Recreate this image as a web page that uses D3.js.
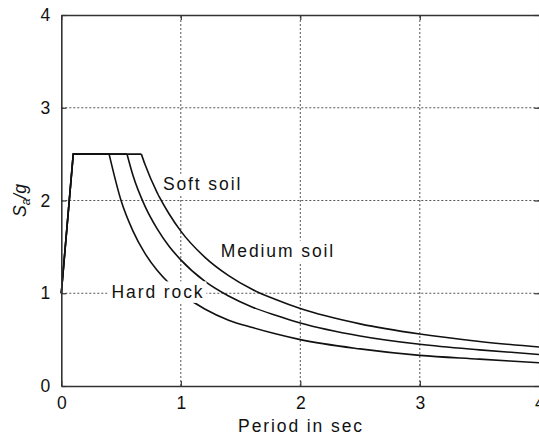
<!DOCTYPE html>
<html>
<head>
<meta charset="utf-8">
<script src="https://cdn.jsdelivr.net/npm/d3@7"></script>
<style>
  body { margin: 0; background: #fff; }
  svg { display: block; }
  text { font-family: "Liberation Sans", Arial, Helvetica, sans-serif; fill: #111; }
</style>
</head>
<body>
<svg id="chart" width="539" height="437"></svg>
<script>
// ---- data ----
const xTicks = [0, 1, 2, 3, 4];
const yTicks = [0, 1, 2, 3, 4];

const hardRockT  = [0, 0.1, 0.4, 0.5, 0.6, 0.7, 0.8, 0.9, 1.0, 1.2, 1.4, 1.6, 1.8, 2.0, 2.5, 3.0, 3.5, 4.0];
const hardRockSa = [1, 2.5, 2.5, 2.0, 1.67, 1.43, 1.25, 1.11, 1.0, 0.83, 0.71, 0.63, 0.56, 0.50, 0.40, 0.33, 0.29, 0.25];

const mediumSoilT  = [0, 0.1, 0.55, 0.6, 0.7, 0.8, 0.9, 1.0, 1.2, 1.4, 1.6, 1.8, 2.0, 2.5, 3.0, 3.5, 4.0];
const mediumSoilSa = [1, 2.5, 2.5, 2.27, 1.94, 1.70, 1.51, 1.36, 1.13, 0.97, 0.85, 0.76, 0.68, 0.54, 0.45, 0.39, 0.34];

const softSoilT  = [0, 0.1, 0.67, 0.7, 0.8, 0.9, 1.0, 1.2, 1.4, 1.6, 1.8, 2.0, 2.5, 3.0, 3.5, 4.0];
const softSoilSa = [1, 2.5, 2.5, 2.39, 2.09, 1.86, 1.67, 1.39, 1.19, 1.04, 0.93, 0.835, 0.67, 0.56, 0.48, 0.42];

const seriesNames = ["Hard rock", "Medium soil", "Soft soil"];
const labelT  = [0.42, 1.335, 0.85];
const labelSa = [0.95, 1.39, 2.11];

// ---- layout ----
const svg = d3.select("#chart");
const x = d3.scaleLinear().domain([0, 4]).range([61.3, 61.3 + 4 * 119.5]);
const y = d3.scaleLinear().domain([0, 4]).range([386, 15]);

// gridlines
const grid = svg.append("g").attr("stroke", "#555").attr("stroke-width", 1).attr("stroke-dasharray", "2,2");
grid.selectAll("line.v").data(xTicks.filter(d => d > 0 && d < 4)).join("line")
  .attr("x1", d => x(d)).attr("x2", d => x(d)).attr("y1", y(0)).attr("y2", y(4));
grid.selectAll("line.h").data(yTicks.filter(d => d > 0 && d < 4)).join("line")
  .attr("x1", x(0)).attr("x2", x(4)).attr("y1", d => y(d)).attr("y2", d => y(d));

// curves: straight ramp + plateau, smooth decay after the plateau
const series = [
  hardRockT.map((t, i) => [t, hardRockSa[i]]),
  mediumSoilT.map((t, i) => [t, mediumSoilSa[i]]),
  softSoilT.map((t, i) => [t, softSoilSa[i]])
];
const straight = d3.line().x(d => x(d[0])).y(d => y(d[1]));
const smooth = d3.line().x(d => x(d[0])).y(d => y(d[1])).curve(d3.curveMonotoneX);
const cg = svg.append("g").attr("fill", "none").attr("stroke", "#111").attr("stroke-width", 1.6)
  .attr("stroke-linejoin", "miter");
series.forEach(s => {
  cg.append("path").attr("d", straight(s.slice(0, 3)));
  cg.append("path").attr("d", smooth(s.slice(2)));
});

// labels with white backgrounds
const lab = svg.append("g");
seriesNames.forEach((name, i) => {
  const g = lab.append("g");
  const rect = g.append("rect").attr("fill", "#fff");
  const t = g.append("text").attr("x", x(labelT[i])).attr("y", y(labelSa[i]))
    .attr("font-size", 17.5).style("letter-spacing", "1.9px").text(name);
  const bb = t.node().getBBox();
  rect.attr("x", bb.x - 4).attr("y", bb.y - 0.5).attr("width", bb.width + 6).attr("height", bb.height + 1.5);
});

// axes (ticks inward)
const axisStyle = g => {
  g.select(".domain").attr("stroke", "#333").attr("stroke-width", 1.6);
  g.selectAll(".tick line").attr("stroke", "#333").attr("stroke-width", 1.2);
  g.selectAll(".tick text").attr("font-size", 17.5).attr("fill", "#111")
    .attr("font-family", "'Liberation Sans', Arial, Helvetica, sans-serif");
};
svg.append("g").attr("transform", `translate(0,${y(0)})`)
  .call(d3.axisBottom(x).tickValues(xTicks).tickFormat(d3.format("d")).tickSizeInner(-5).tickSizeOuter(0).tickPadding(11))
  .call(axisStyle);
svg.append("g").attr("transform", `translate(${x(0)},0)`)
  .call(d3.axisLeft(y).tickValues(yTicks).tickFormat(d3.format("d")).tickSizeInner(-5).tickSizeOuter(0).tickPadding(11))
  .call(axisStyle);
svg.append("g").attr("transform", `translate(0,${y(4)})`)
  .call(d3.axisTop(x).tickValues(xTicks).tickFormat("").tickSizeInner(-5).tickSizeOuter(0))
  .call(axisStyle);
svg.append("g").attr("transform", `translate(${x(4)},0)`)
  .call(d3.axisRight(y).tickValues(yTicks).tickFormat("").tickSizeInner(-5).tickSizeOuter(0))
  .call(axisStyle);

// axis titles
svg.append("text").attr("x", 301).attr("y", 432).attr("text-anchor", "middle")
  .attr("font-size", 17.5).style("letter-spacing", "1.9px").text("Period in sec");

const yl = svg.append("text").attr("transform", `translate(26,${(y(0) + y(4)) / 2}) rotate(-90)`)
  .attr("text-anchor", "middle").attr("font-size", 17.5).attr("font-style", "italic");
yl.append("tspan").text("S");
yl.append("tspan").attr("font-size", 12).attr("dy", 4).text("a");
yl.append("tspan").attr("dy", -4).text("/g");
</script>
</body>
</html>
